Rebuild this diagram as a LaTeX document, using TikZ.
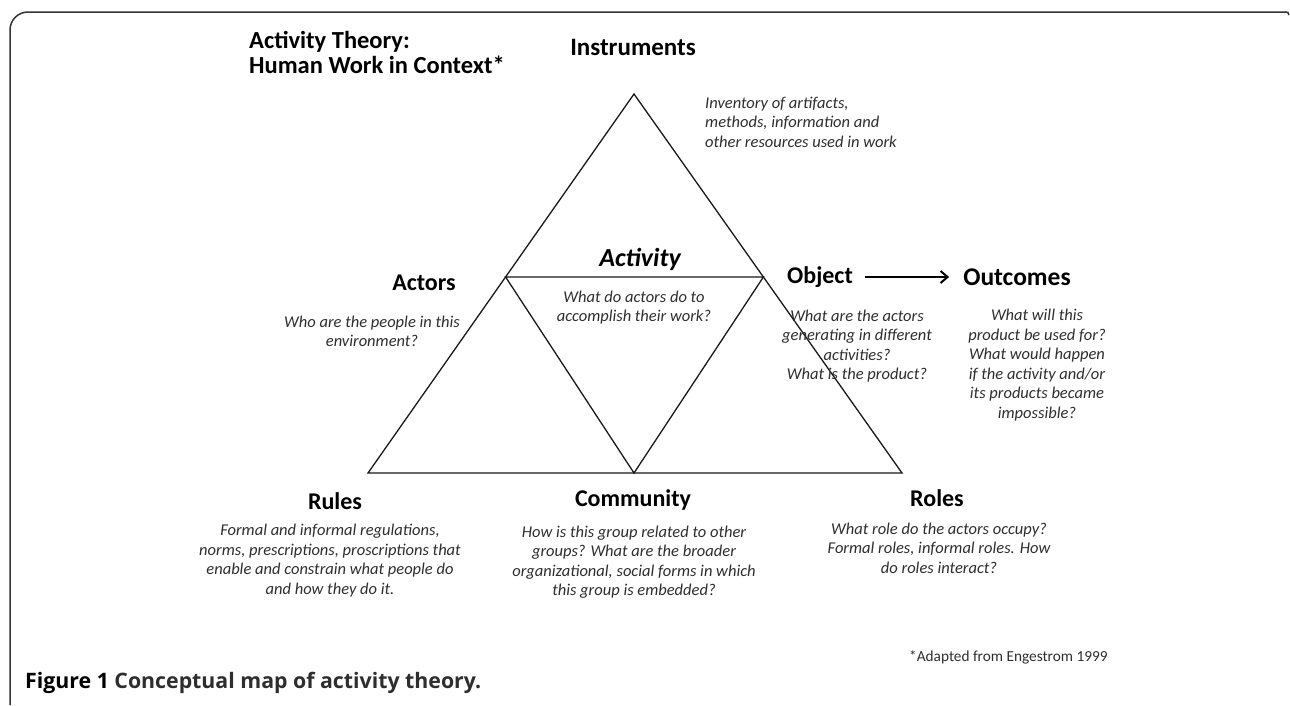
\documentclass[tikz,border=0pt]{standalone}
\usepackage{fontspec}
\setmainfont{Carlito}
\newfontfamily\capfont{Open Sans}
\usetikzlibrary{arrows.meta}
\definecolor{txt}{HTML}{2E2E2E}
\definecolor{frame}{HTML}{333333}
\begin{document}
\begin{tikzpicture}[x=1pt,y=-1pt,
  head/.style={font=\fontsize{24}{28}\selectfont\bfseries, inner sep=0pt, text=black},
  desc/.style={font=\fontsize{16.5}{19.5}\selectfont\itshape, inner sep=0pt, text=txt, align=center},
  tri/.style={line width=1.3pt, draw=black!90},
]
\useasboundingbox (0,0) rectangle (1290,705);
% frame
\draw[frame, line width=1.5pt, rounded corners=18pt] (10,705) -- (10,12) -- (1286,12);
\draw[frame, line width=1.5pt] (1285,12) .. controls (1288,12) .. (1289,15);

% title
\node[anchor=west, align=left, inner sep=0pt, font=\fontsize{24.5}{25}\selectfont\bfseries] (title) at (249,52)
  {Activity Theory:\\Human Work in Context*};

% triangle
\coordinate (apex) at (634,94);
\coordinate (bl) at (368,473);
\coordinate (br) at (902,473);
\coordinate (ml) at (505.6,277);
\coordinate (mr) at (763.4,277);
\coordinate (mb) at (634,473);
\draw[tri] (apex) -- (bl) -- (br) -- cycle;
\draw[tri] (ml) -- (mr) -- (mb) -- cycle;

% headings
\node[head, font=\fontsize{25}{28}\selectfont\bfseries] (instr) at (633,47) {Instruments};
\node[head] (actors) at (424,283) {Actors};
\node[head, font=\fontsize{26}{28}\selectfont\bfseries\itshape] (activity) at (640,259) {Activity};
\node[head] (object) at (820,277) {Object};
\node[head, font=\fontsize{25.5}{28}\selectfont\bfseries] (outcomes) at (1017,277) {Outcomes};
\node[head] (rules) at (335,501) {Rules};
\node[head] (community) at (633,500) {Community};
\node[head] (roles) at (937,498) {Roles};

\draw[line width=2pt, -{Straight Barb[length=7pt,width=12pt]}, shorten <=12pt, shorten >=14pt] (object) -- (outcomes);

% descriptions
\node[desc, anchor=west, align=left] (instrd) at (705,122)
  {Inventory of artifacts,\\methods, information and\\other resources used in work};
\node[desc] (actorsd) at (372,331.5) {Who are the people in this\\environment?};
\node[desc] (activityd) at (634,307.5) {What do actors do to\\accomplish their work?};
\node[desc] (objectd) at (857,346) {What are the actors\\generating in different\\activities?\\What is the product?};
\node[desc] (outcomesd) at (1037,365) {What will this\\product be used for?\\What would happen\\if the activity and/or\\its products became\\impossible?};
\node[desc] (rulesd) at (330,560.5) {Formal and informal regulations,\\norms, prescriptions, proscriptions that\\enable and constrain what people do\\and how they do it.};
\node[desc] (communityd) at (634,562) {How is this group related to other\\groups? What are the broader\\organizational, social forms in which\\this group is embedded?};
\node[desc] (rolesd) at (939,548) {What role do the actors occupy?\\Formal roles, informal roles. How\\do roles interact?};

% footnote and caption
\node[anchor=west, inner sep=0pt, text=txt, font=\fontsize{15.3}{17}\selectfont] (foot) at (909,657) {*Adapted from Engestrom 1999};
\node[anchor=west, inner sep=0pt, font=\capfont\fontsize{21.3}{23}\selectfont\bfseries] (cap) at (25,683)
  {Figure 1 \textcolor{txt}{Conceptual map of activity theory.}};
\end{tikzpicture}
\end{document}
